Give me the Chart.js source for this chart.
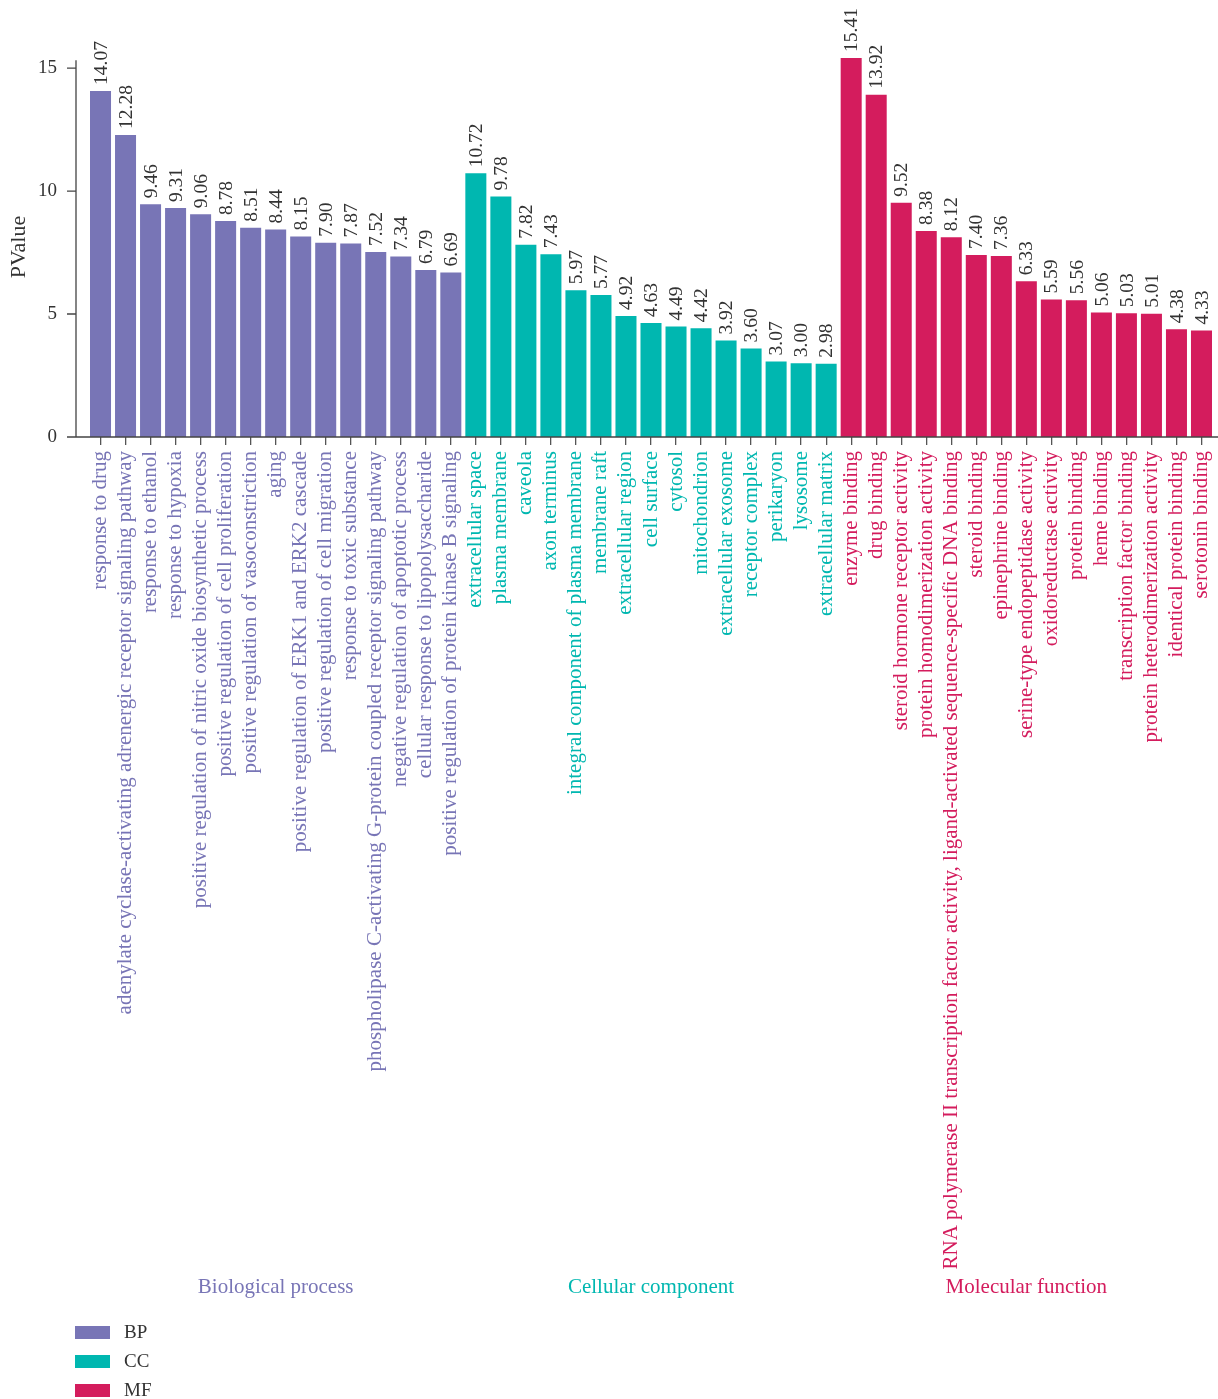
<!DOCTYPE html>
<html lang="en">
<head>
  <meta charset="UTF-8">
  <title>GO enrichment</title>
  <script src="https://cdn.jsdelivr.net/npm/chart.js"></script>
  <style>
    html, body { margin: 0; padding: 0; background: #fff; }
    #wrap { width: 1218px; height: 1399px; }
  </style>
</head>
<body>
  <div id="wrap"><canvas id="goChart" width="1218" height="1399"></canvas></div>
  <script>
    // --- data ---
    const bpTerms = ["response to drug", "adenylate cyclase-activating adrenergic receptor signaling pathway",
      "response to ethanol", "response to hypoxia", "positive regulation of nitric oxide biosynthetic process",
      "positive regulation of cell proliferation", "positive regulation of vasoconstriction", "aging",
      "positive regulation of ERK1 and ERK2 cascade", "positive regulation of cell migration",
      "response to toxic substance", "phospholipase C-activating G-protein coupled receptor signaling pathway",
      "negative regulation of apoptotic process", "cellular response to lipopolysaccharide",
      "positive regulation of protein kinase B signaling"];
    const bpValues = [14.07, 12.28, 9.46, 9.31, 9.06, 8.78, 8.51, 8.44, 8.15, 7.90, 7.87, 7.52, 7.34, 6.79, 6.69];

    const ccTerms = ["extracellular space", "plasma membrane", "caveola", "axon terminus",
      "integral component of plasma membrane", "membrane raft", "extracellular region", "cell surface",
      "cytosol", "mitochondrion", "extracellular exosome", "receptor complex", "perikaryon", "lysosome",
      "extracellular matrix"];
    const ccValues = [10.72, 9.78, 7.82, 7.43, 5.97, 5.77, 4.92, 4.63, 4.49, 4.42, 3.92, 3.60, 3.07, 3.00, 2.98];

    const mfTerms = ["enzyme binding", "drug binding", "steroid hormone receptor activity",
      "protein homodimerization activity",
      "RNA polymerase II transcription factor activity, ligand-activated sequence-specific DNA binding",
      "steroid binding", "epinephrine binding", "serine-type endopeptidase activity", "oxidoreductase activity",
      "protein binding", "heme binding", "transcription factor binding", "protein heterodimerization activity",
      "identical protein binding", "serotonin binding"];
    const mfValues = [15.41, 13.92, 9.52, 8.38, 8.12, 7.40, 7.36, 6.33, 5.59, 5.56, 5.06, 5.03, 5.01, 4.38, 4.33];

    const groupNames = ["Biological process", "Cellular component", "Molecular function"];
    const groupCodes = ["BP", "CC", "MF"];
    const groupColors = ["#7875b6", "#00b7b0", "#d41c5d"];
    const yTicks = [0, 5, 10, 15];

    const FONT = "'Liberation Serif', 'Times New Roman', serif";
    const TEXT = "#333333";
    const AXIS = "#444444";

    const labels = bpTerms.concat(ccTerms, mfTerms);
    const groupValues = [bpValues, ccValues, mfValues];
    const nB = bpValues.length, nC = ccValues.length;
    const blanks = n => new Array(n).fill(null);

    const datasets = groupValues.map((vals, g) => {
      const before = groupValues.slice(0, g).reduce((s, a) => s + a.length, 0);
      const after = labels.length - before - vals.length;
      return {
        label: groupCodes[g],
        data: blanks(before).concat(vals, blanks(after)),
        backgroundColor: groupColors[g],
        borderWidth: 0,
        barPercentage: 0.84,
        categoryPercentage: 1.0,
        grouped: false
      };
    });

    function groupOf(i) {
      if (i < nB) return 0;
      if (i < nB + nC) return 1;
      return 2;
    }

    // axis lines, value labels, group captions and legend
    const decorations = {
      id: 'decorations',
      afterDatasetsDraw(chart) {
        const ctx = chart.ctx;
        const x = chart.scales.x, y = chart.scales.y;
        const area = chart.chartArea;
        const axisX = area.left - 12;
        const base = y.getPixelForValue(0);

        ctx.save();
        ctx.strokeStyle = AXIS;
        ctx.lineWidth = 1.3;
        ctx.beginPath();
        ctx.moveTo(axisX, y.getPixelForValue(15.32));
        ctx.lineTo(axisX, base);
        ctx.moveTo(axisX, base);
        ctx.lineTo(chart.width, base);
        yTicks.forEach(t => {
          const py = y.getPixelForValue(t);
          ctx.moveTo(axisX - 9, py);
          ctx.lineTo(axisX, py);
        });
        ctx.stroke();

        // values above bars
        ctx.fillStyle = TEXT;
        ctx.font = "19.5px " + FONT;
        ctx.textAlign = 'left';
        ctx.textBaseline = 'middle';
        chart.data.datasets.forEach((ds, d) => {
          const meta = chart.getDatasetMeta(d);
          meta.data.forEach((bar, i) => {
            const v = ds.data[i];
            if (v === null) return;
            ctx.save();
            ctx.translate(bar.x + 1, bar.y - 6);
            ctx.rotate(-Math.PI / 2);
            ctx.fillText(v.toFixed(2), 0, 0);
            ctx.restore();
          });
        });

        // group captions
        ctx.font = "21px " + FONT;
        ctx.textAlign = 'center';
        let start = 0;
        groupValues.forEach((vals, g) => {
          const mid = start + (vals.length - 1) / 2;
          const px = (x.getPixelForValue(Math.floor(mid)) + x.getPixelForValue(Math.ceil(mid))) / 2;
          ctx.fillStyle = groupColors[g];
          ctx.fillText(groupNames[g], px, 1287);
          start += vals.length;
        });

        // legend
        ctx.textAlign = 'left';
        ctx.font = "19px " + FONT;
        chart.data.datasets.forEach((ds, d) => {
          const top = 1326 + d * 29;
          ctx.fillStyle = ds.backgroundColor;
          ctx.fillRect(75, top, 35, 13);
          ctx.fillStyle = TEXT;
          ctx.fillText(ds.label, 124, top + 7);
        });
        ctx.restore();
      }
    };

    new Chart(document.getElementById('goChart'), {
      type: 'bar',
      data: { labels: labels, datasets: datasets },
      options: {
        responsive: false,
        animation: false,
        layout: { padding: { top: 57, right: 4, left: 0, bottom: 0 } },
        plugins: {
          legend: { display: false },
          tooltip: { enabled: false }
        },
        scales: {
          x: {
            afterFit(scale) {
              scale.height = 962;
              scale.paddingLeft = 0;
              scale.paddingRight = 0;
            },
            border: { display: false },
            grid: {
              display: true, drawOnChartArea: false, drawTicks: true,
              tickLength: 8, offset: false, color: '#555', lineWidth: 1.3
            },
            ticks: {
              autoSkip: false, minRotation: 90, maxRotation: 90, padding: 6,
              font: { family: FONT, size: 21 },
              color: ctx => groupColors[groupOf(ctx.index)]
            }
          },
          y: {
            min: 0, max: 15.45,
            afterFit(scale) { scale.width = 88; },
            border: { display: false },
            grid: { display: false, drawTicks: false },
            ticks: {
              stepSize: 5, includeBounds: false, padding: 31,
              font: { family: FONT, size: 19 }, color: TEXT
            },
            title: {
              display: true, text: 'PValue', color: TEXT,
              font: { family: FONT, size: 22 },
              padding: { top: 6, bottom: 0 }
            }
          }
        }
      },
      plugins: [decorations]
    });
  </script>
</body>
</html>
